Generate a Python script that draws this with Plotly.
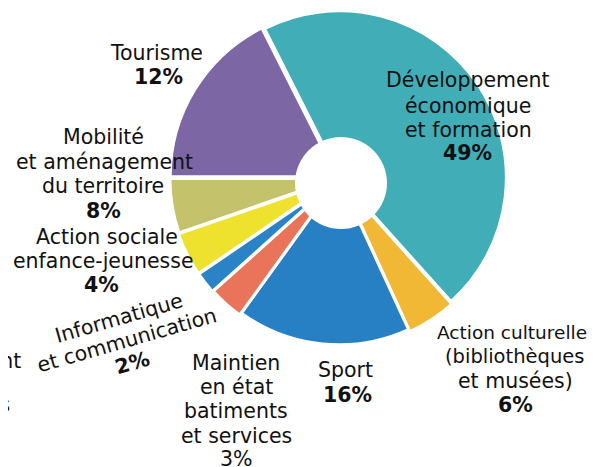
import plotly.graph_objects as go

# Categories (clockwise from the top), drawn slice shares,
# and the printed percentage labels.
categories = [
    "Développement économique et formation",
    "Action culturelle (bibliothèques et musées)",
    "Sport",
    "Maintien en état batiments et services",
    "Informatique et communication",
    "Action sociale enfance-jeunesse",
    "Mobilité et aménagement du territoire",
    "Tourisme",
]
slice_values = [45.8, 4.8, 16.8, 3.4, 2.1, 4.25, 5.3, 17.55]
pct_labels = ["49%", "6%", "16%", "3%", "2%", "4%", "8%", "12%"]
colors = ["#41ADB7", "#F1B836", "#2880C4", "#EA745A", "#2A83C6",
          "#EFE22F", "#C4C26B", "#7C66A4"]
pulls = [0.005, 0.015, 0.0, 0.015, 0.02, 0.02, 0.015, 0.015]

# the page body has an 8px margin: the figure starts at (8, 8) in the window
OFF = 8
W, H = 599 - OFF, 467 - OFF


def px(x):
    return (x - OFF) / W


def py(y):
    return 1 - (y - OFF) / H


cx, cy = 339, 178
half = cy - OFF  # pie box half size (top of box at top of figure)

fig = go.Figure()
fig.add_trace(go.Pie(
    labels=categories,
    values=slice_values,
    sort=False,
    direction="clockwise",
    rotation=-26.8,
    pull=pulls,
    marker=dict(colors=colors, line=dict(color="white", width=3)),
    textinfo="none",
    hoverinfo="label+percent",
    showlegend=False,
    domain=dict(x=[px(cx - half), px(cx + half)],
                y=[py(cy + half), py(cy - half)]),
))

# white centre circle
hx, hy, hr = 341, 183, 46
fig.add_shape(type="circle", xref="paper", yref="paper",
              x0=px(hx - hr), x1=px(hx + hr),
              y0=py(hy + hr), y1=py(hy - hr),
              fillcolor="white", line=dict(color="white", width=0),
              layer="above")

FONT = "DejaVu Sans"
FS = 20.5
TXT = "#111111"


def line(text, x, y, angle=0, anchor="center", size=FS):
    fig.add_annotation(x=px(x), y=py(y), xref="paper", yref="paper",
                       text=text, showarrow=False, textangle=angle,
                       xanchor=anchor, yanchor="middle",
                       font=dict(family=FONT, size=size, color=TXT))


b = lambda s: "<b>%s</b>" % s

# Développement économique et formation
line("Développement", 468, 80.5)
line("économique", 468, 105.5)
line("et formation", 468, 130.5)
line(b(pct_labels[0]), 467, 153)
# Action culturelle
line("Action culturelle", 512, 332.5, size=18.5)
line("(bibliothèques", 514, 356.5, size=19.5)
line("et musées)", 515, 381)
line(b(pct_labels[1]), 515, 404.5)
# Sport
line("Sport", 345, 370)
line(b(pct_labels[2]), 347, 394.5)
# Maintien
line("Maintien", 236, 362.5)
line("en état", 236.5, 387)
line("batiments", 236, 411)
line("et services", 236, 435.5)
line(pct_labels[3], 236, 459)
# Informatique (tilted)
line("Informatique", 119, 318, angle=-16)
line("et communication", 127.5, 340, angle=-16)
line(b(pct_labels[4]), 132.5, 363, angle=-16)
# Action sociale
line("Action sociale", 107.5, 236.5)
line("enfance-jeunesse", 103.5, 261)
line(b(pct_labels[5]), 101, 284.5)
# Mobilité
line("Mobilité", 103, 137.5)
line("et aménagement", 104.5, 161.5)
line("du territoire", 102.5, 186.5)
line(b(pct_labels[6]), 104, 210.5)
# Tourisme
line("Tourisme", 156.5, 53.5)
line(b(pct_labels[7]), 158, 77.5)

# cropped remnants of neighbouring labels at the left edge
line("ement", 23, 361, anchor="right")
line("ues", 12, 405, anchor="right")

fig.update_layout(width=W, height=H, margin=dict(l=0, r=0, t=0, b=0),
                  paper_bgcolor="white", plot_bgcolor="white")
fig.write_html("out.html")
